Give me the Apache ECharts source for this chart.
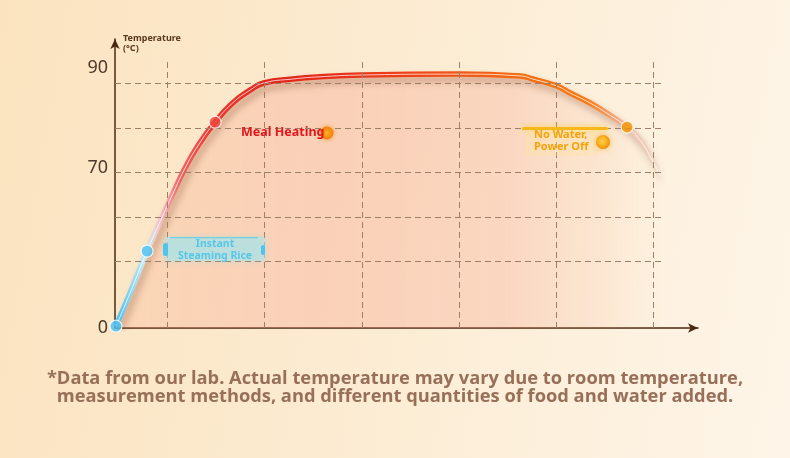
<!doctype html>
<html lang="en">
    <head>
        <meta charset="UTF-8" />
        <title>Temperature curve</title>
        <script src="https://cdn.jsdelivr.net/npm/echarts@6/dist/echarts.min.js"></script>
        <style>
            body { margin: 0; }
            #main {
                width: 790px;
                height: 458px;
                background: linear-gradient(100deg, #fbe3bf 0%, #fcecd3 50%, #fef5e8 100%);
            }
        </style>
    </head>
    <body>
        <div id="main"></div>

        <script>
            // Curve (x: time in grid units, y: chart height units)
            const curveX = [0.1, 1.5, 3.3, 4.8, 6.0, 7.1, 8.6, 10.3, 12.1, 13.9, 15.3, 18.3, 21.1,
                25.4, 35.4, 41.7, 43.0, 45.5, 46.8, 48.9, 50.9, 52.7, 54.0, 55.1, 56.1];
            const curveY = [0.4, 7.6, 17.3, 24.7, 30.4, 35.5, 41.2, 46.3, 50.6, 53.5, 55.1, 56.0, 56.5,
                56.9, 57.1, 56.7, 56.0, 54.4, 52.9, 50.6, 47.9, 45.2, 42.3, 38.5, 34.2];

            // Highlighted points on the curve (indices into the curve)
            const markerIdx = [0, 2, 7, 21];
            const markerColors = ["#4cc0f2", "#4cc0f2", "#ef4237", "#f39200"];

            // Y tick labels and where they sit
            const yLabelPos = [0, 36, 58.5];
            const yLabels = ["0", "70", "90"];

            // Dashed grid lines
            const vGridX = [5.4, 15.4, 25.4, 35.4, 45.4, 55.4];
            const hGridY = [15, 25, 35, 45, 55];

            const curve = curveX.map((x, i) => [x, curveY[i]]);
            const markers = markerIdx.map((idx, i) => ({
                value: curve[idx],
                itemStyle: { color: markerColors[i] },
            }));

            const gridLines = [];
            vGridX.forEach((x) => gridLines.push([{ coord: [x, 0] }, { coord: [x, 59.8] }]));
            hGridY.forEach((y) => gridLines.push([{ coord: [0, y] }, { coord: [56.6, y] }]));

            const myChart = echarts.init(document.getElementById("main"));

            const lineGradient = new echarts.graphic.LinearGradient(0, 0, 1, 0, [
                { offset: 0, color: "#3fb6ee" },
                { offset: 0.057, color: "#c4ecf6" },
                { offset: 0.085, color: "#f5c3c8" },
                { offset: 0.12, color: "#ef6563" },
                { offset: 0.18, color: "#eb3a30" },
                { offset: 0.3, color: "#e3241b" },
                { offset: 0.52, color: "#ef3f19" },
                { offset: 0.74, color: "#f46d12" },
                { offset: 0.86, color: "#f67a14" },
                { offset: 0.92, color: "#f4ad88" },
                { offset: 0.95, color: "#efc8b6" },
                { offset: 1, color: "rgba(240,205,185,0.05)" },
            ]);

            const areaGradient = new echarts.graphic.LinearGradient(0, 0, 1, 0, [
                { offset: 0, color: "rgba(248,170,140,0.4)" },
                { offset: 0.4, color: "rgba(245,150,130,0.44)" },
                { offset: 0.72, color: "rgba(246,155,132,0.4)" },
                { offset: 0.9, color: "rgba(248,180,150,0.22)" },
                { offset: 1, color: "rgba(252,215,190,0.03)" },
            ]);

            const options = {
                animation: false,
                grid: { left: 115, right: 92, top: 39, bottom: 130 },
                xAxis: {
                    type: "value",
                    min: 0,
                    max: 60,
                    axisLine: {
                        symbol: ["none", "arrow"],
                        symbolSize: [7, 10],
                        lineStyle: { color: "#4a2912", width: 1.5 },
                    },
                    axisTick: { show: false },
                    axisLabel: { show: false },
                    splitLine: { show: false },
                },
                yAxis: {
                    type: "value",
                    min: 0,
                    max: 65,
                    axisLine: {
                        show: true,
                        symbol: ["none", "arrow"],
                        symbolSize: [7, 10],
                        lineStyle: { color: "#4a2912", width: 1.5 },
                    },
                    axisTick: { show: false },
                    splitLine: { show: false },
                    axisLabel: {
                        customValues: yLabelPos,
                        formatter: (v) => {
                            const i = yLabelPos.indexOf(v);
                            return i >= 0 ? yLabels[i] : "";
                        },
                        margin: 7,
                        color: "#4e3a2c",
                        fontSize: 18,
                        fontFamily: "Noto Sans",
                    },
                },
                series: [
                    {
                        type: "line",
                        data: curve,
                        smooth: 0.5,
                        showSymbol: false,
                        lineStyle: { width: 0 },
                        areaStyle: { color: areaGradient },
                        z: 1,
                        silent: true,
                    },
                    {
                        type: "line",
                        data: [],
                        z: 2,
                        markLine: {
                            silent: true,
                            symbol: ["none", "none"],
                            label: { show: false },
                            lineStyle: { color: "#9c7f66", width: 1, type: [6, 4] },
                            data: gridLines,
                        },
                    },
                    {
                        type: "line",
                        data: curve,
                        smooth: 0.5,
                        showSymbol: false,
                        lineStyle: {
                            width: 5.5,
                            color: lineGradient,
                            shadowColor: "rgba(110,55,25,0.35)",
                            shadowBlur: 7,
                            shadowOffsetX: 3,
                            shadowOffsetY: 5,
                        },
                        z: 3,
                        silent: true,
                    },
                    {
                        type: "line",
                        data: curve,
                        smooth: 0.5,
                        showSymbol: false,
                        lineStyle: { width: 1, color: "rgba(255,255,255,0.75)" },
                        z: 4,
                        silent: true,
                    },
                    {
                        type: "scatter",
                        data: markers,
                        symbolSize: 12,
                        itemStyle: { borderColor: "#fff", borderWidth: 1.2 },
                        z: 5,
                    },
                ],
                graphic: [
                    {
                        type: "text",
                        left: 153 - 30,
                        top: 33,
                        style: {
                            text: "Temperature\n(°C)",
                            align: "center",
                            width: 60,
                            fill: "#5a3a1f",
                            font: "bold 9px 'Noto Sans'",
                            lineHeight: 10,
                        },
                    },
                    // Instant Steaming Rice label
                    {
                        type: "rect",
                        shape: { x: 165, y: 237, width: 100, height: 24, r: 2 },
                        style: {
                            fill: "rgba(170,232,238,0.55)",
                            shadowColor: "rgba(120,220,235,0.6)",
                            shadowBlur: 6,
                        },
                        z: 10,
                    },
                    {
                        type: "rect",
                        shape: { x: 170, y: 237, width: 88, height: 1.2 },
                        style: { fill: "rgba(80,200,230,0.7)" },
                        z: 10,
                    },
                    {
                        type: "rect",
                        shape: { x: 163, y: 243, width: 5, height: 13, r: 2.5 },
                        style: { fill: "#4cc6f0" },
                        z: 10,
                    },
                    {
                        type: "rect",
                        shape: { x: 261, y: 245, width: 4, height: 10, r: 2 },
                        style: { fill: "#4cc6f0" },
                        z: 10,
                    },
                    {
                        type: "text",
                        x: 215,
                        y: 250,
                        style: {
                            text: "Instant\nSteaming Rice",
                            align: "center",
                            verticalAlign: "middle",
                            fill: "#58c6e8",
                            font: "bold 10.5px 'Noto Sans'",
                            lineHeight: 12.5,
                        },
                        z: 11,
                    },
                    // Meal Heating label
                    {
                        type: "text",
                        x: 241,
                        y: 132,
                        style: {
                            text: "Meal Heating",
                            verticalAlign: "middle",
                            fill: "#e3161b",
                            font: "bold 12.5px 'Noto Sans'",
                        },
                        z: 11,
                    },
                    {
                        type: "circle",
                        shape: { cx: 327, cy: 133, r: 6.5 },
                        style: {
                            fill: new echarts.graphic.RadialGradient(0.5, 0.5, 0.5, [
                                { offset: 0, color: "#ffb020" },
                                { offset: 1, color: "#f27d10" },
                            ]),
                            shadowColor: "rgba(245,140,20,0.8)",
                            shadowBlur: 5,
                        },
                        z: 10,
                    },
                    // No Water, Power Off label
                    {
                        type: "rect",
                        shape: { x: 522, y: 127, width: 86, height: 3, r: 1.5 },
                        style: {
                            fill: "#f7b81c",
                            shadowColor: "rgba(250,200,40,0.8)",
                            shadowBlur: 6,
                        },
                        z: 10,
                    },
                    {
                        type: "rect",
                        shape: { x: 526, y: 130, width: 72, height: 26 },
                        style: { fill: "rgba(253,225,160,0.35)" },
                        z: 10,
                    },
                    {
                        type: "text",
                        x: 534,
                        y: 141,
                        style: {
                            text: "No Water,\nPower Off",
                            verticalAlign: "middle",
                            fill: "#f5a30c",
                            font: "bold 11px 'Noto Sans'",
                            lineHeight: 12,
                        },
                        z: 11,
                    },
                    {
                        type: "circle",
                        shape: { cx: 603, cy: 142, r: 7 },
                        style: {
                            fill: new echarts.graphic.RadialGradient(0.45, 0.45, 0.55, [
                                { offset: 0, color: "#ffd24a" },
                                { offset: 0.6, color: "#f8b020" },
                                { offset: 1, color: "#f08a10" },
                            ]),
                            shadowColor: "rgba(250,180,30,0.8)",
                            shadowBlur: 6,
                        },
                        z: 10,
                    },
                    // Footnote
                    {
                        type: "text",
                        x: 395,
                        y: 388,
                        style: {
                            text: "*Data from our lab. Actual temperature may vary due to room temperature,\nmeasurement methods, and different quantities of food and water added.",
                            align: "center",
                            verticalAlign: "middle",
                            fill: "#98705a",
                            font: "bold 18.3px 'Open Sans'",
                            lineHeight: 17.5,
                        },
                    },
                ],
            };

            myChart.setOption(options);
        </script>
    </body>
</html>
